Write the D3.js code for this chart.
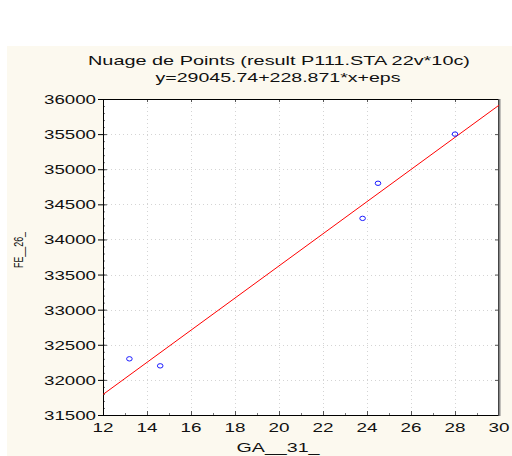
<!DOCTYPE html>
<html><head><meta charset="utf-8">
<script src="https://cdn.jsdelivr.net/npm/d3@7"></script>
<style>html,body{margin:0;padding:0;background:#fff;}svg{display:block;}</style>
</head><body>
<svg id="c" width="512" height="456"></svg>
<script>
const xVals = [13.2, 14.6, 23.8, 24.5, 28.0];
const yVals = [32300, 32200, 34300, 34800, 35500];
const xTicks = [12, 14, 16, 18, 20, 22, 24, 26, 28, 30];
const yTicks = [31500, 32000, 32500, 33000, 33500, 34000, 34500, 35000, 35500, 36000];
const intercept = 29045.74, slope = 228.871;
const titleLines = ["Nuage de Points (result P111.STA 22v*10c)", "y=29045.74+228.871*x+eps"];
const xLabel = "GA__31_", yLabel = "FE__26_";

const svg = d3.select("#c");
const L = 103, R = 499, T = 99, B = 415;
const x = d3.scaleLinear().domain([12, 30]).range([L, R]);
const y = d3.scaleLinear().domain([31500, 36000]).range([B, T]);
const font = "'Liberation Sans', Arial, sans-serif";

svg.append("rect").attr("x", 7).attr("y", 46).attr("width", 505).attr("height", 410).attr("fill", "#fcf9ef");
svg.append("rect").attr("x", L).attr("y", T).attr("width", R - L).attr("height", B - T).attr("fill", "#fff");

// grid
const g = svg.append("g");
g.selectAll(".gx").data(xTicks.slice(1, -1)).join("line")
  .attr("x1", d => x(d) + 0.5).attr("x2", d => x(d) + 0.5).attr("y1", T).attr("y2", B)
  .attr("stroke", "#d4d4d4").attr("stroke-dasharray", "1,3");
g.selectAll(".gy").data(yTicks.slice(1, -1)).join("line")
  .attr("y1", d => Math.round(y(d)) + 0.5).attr("y2", d => Math.round(y(d)) + 0.5).attr("x1", L).attr("x2", R)
  .attr("stroke", "#d4d4d4").attr("stroke-dasharray", "1,3");

// axes via d3
const xAxis = d3.axisBottom(x).tickValues(xTicks).tickSize(-4).tickFormat("");
const yAxis = d3.axisLeft(y).tickValues(yTicks).tickSize(-4).tickFormat("");
const minorX = d3.range(12, 30.01, 1), minorY = d3.range(31500, 36001, 100);
svg.append("g").attr("transform", `translate(0,${B})`).call(d3.axisBottom(x).tickValues(minorX).tickSize(-2).tickFormat(""))
  .call(a => { a.select(".domain").remove(); a.selectAll("line").attr("stroke", "#777"); });
svg.append("g").attr("transform", `translate(${L},0)`).call(d3.axisLeft(y).tickValues(minorY).tickSize(-2).tickFormat(""))
  .call(a => { a.select(".domain").remove(); a.selectAll("line").attr("stroke", "#777"); });
svg.append("g").attr("transform", `translate(${R},0)`).call(d3.axisRight(y).tickValues(yTicks).tickSize(-4).tickFormat(""))
  .call(a => { a.select(".domain").remove(); a.selectAll("line").attr("stroke", "#555"); });
svg.append("g").attr("transform", `translate(0,${T})`).call(d3.axisTop(x).tickValues(xTicks).tickSize(-3).tickFormat(""))
  .call(a => { a.select(".domain").remove(); a.selectAll("line").attr("stroke", "#555"); });
svg.append("g").attr("transform", `translate(0,${B})`).call(xAxis)
  .call(a => { a.select(".domain").remove(); a.selectAll("line").attr("stroke", "#555"); });
svg.append("g").attr("transform", `translate(${L},0)`).call(yAxis)
  .call(a => { a.select(".domain").remove(); a.selectAll("line").attr("stroke", "#555"); });
// outer left major ticks
svg.append("g").attr("transform", `translate(${L},0)`).call(d3.axisLeft(y).tickValues(yTicks).tickSize(5).tickFormat(""))
  .call(a => { a.select(".domain").remove(); a.selectAll("line").attr("stroke", "#000"); });

// frame
svg.append("rect").attr("x", L + 0.5).attr("y", T + 0.5).attr("width", R - L - 1).attr("height", B - T).attr("fill", "none").attr("stroke", "#000");
svg.append("line").attr("x1", R + 0.5).attr("x2", R + 0.5).attr("y1", T).attr("y2", B + 1).attr("stroke", "#888").attr("stroke-width", 2);

// regression line
svg.append("line")
  .attr("x1", x(12)).attr("y1", y(intercept + slope * 12))
  .attr("x2", x(30)).attr("y2", y(intercept + slope * 30))
  .attr("stroke", "#ff0000").attr("stroke-width", 1);

// points
svg.selectAll(".pt").data(xVals.map((v, i) => [v, yVals[i]])).join("ellipse")
  .attr("cx", d => x(d[0])).attr("cy", d => y(d[1])).attr("rx", 2.8).attr("ry", 2.2)
  .attr("fill", "none").attr("stroke", "#1a1aff").attr("stroke-width", 1);

function txt(s, cx, by, fs, width, anchor, rot) {
  const t = svg.append("text").text(s).attr("font-family", font).attr("font-size", fs).attr("fill", "#111");
  t.attr("textLength", width).attr("lengthAdjust", "spacingAndGlyphs");
  let xx = anchor === "end" ? cx - width : anchor === "middle" ? cx - width / 2 : cx;
  if (rot) {
    t.attr("transform", `translate(${cx},${by}) rotate(-90)`).attr("x", -width / 2).attr("y", 0);
  } else {
    t.attr("x", xx).attr("y", by);
  }
  return t;
}
// y tick labels
yTicks.forEach(v => txt(String(v), 96, Math.round(y(v)) + 5, 13.5, 52, "end"));
xTicks.forEach(v => txt(String(v), x(v), 432, 13.5, 21, "middle"));
txt(titleLines[0], 279, 65, 13.5, 382, "middle");
txt(titleLines[1], 278, 82, 13.5, 245, "middle");
txt(xLabel, 278, 452, 13, 83, "middle");
txt(yLabel, 23, 250, 12.5, 36, "middle", true);
</script>
</body></html>
